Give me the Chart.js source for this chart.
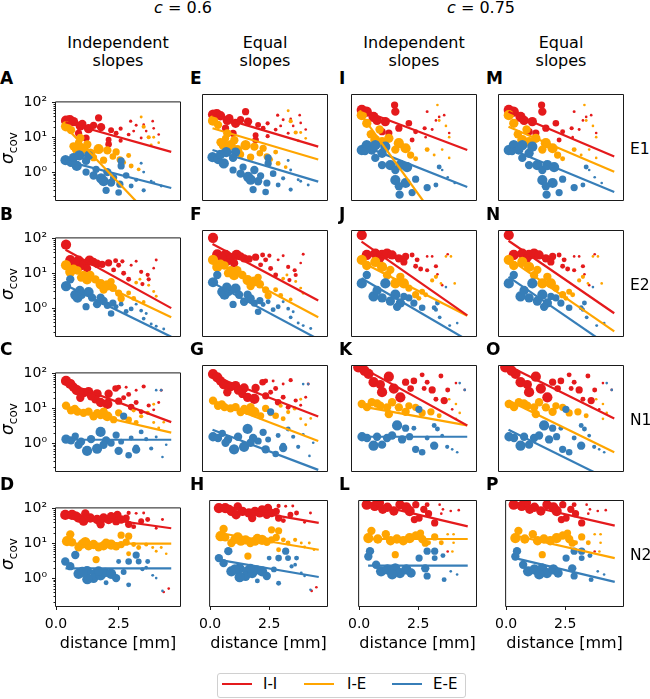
<!DOCTYPE html>
<html>
<head>
<meta charset="utf-8">
<script src="https://cdn.jsdelivr.net/npm/chart.js@4.4.0/dist/chart.umd.min.js"></script>
<style>
  body { margin: 0; background: #fff; font-family: "DejaVu Sans", sans-serif; }
  #fig { position: relative; width: 650px; height: 699px; overflow: hidden; background: #fff; }
  #fig canvas { position: absolute; }
  .t { position: absolute; white-space: nowrap; color: #000; line-height: 1; }
  .lg { position: absolute; height: 2px; }
</style>
</head>
<body>
<div id="fig"></div>
<script>
// colours for I-I, I-E, E-E
const COLORS = ['#e41a1c', '#ffa500', '#377eb8'];
const SERIES = ['I-I', 'I-E', 'E-E'];
const ROWS = ['E1', 'E2', 'N1', 'N2'];
const LETTERS = [['A', 'B', 'C', 'D'], ['E', 'F', 'G', 'H'], ['I', 'J', 'K', 'L'], ['M', 'N', 'O', 'P']];
const X_TICKS = [0, 2.5];
const Y_TICKS = [1, 10, 100];
const Y_TICK_LABELS = ['10\u2070', '10\u00b9', '10\u00b2'];
const LINE_X = [0.38, 4.6];

// scatter points, c = 0.6: [distance mm, sigma_cov, n pairs]
const E1_II = [[0.4,30,60],[0.55,31,60],[0.7,28,50],[0.97,21,50],[1.3,17.6,50],[1.7,36,30],[1.8,19.5,40],[1.2,9.5,30],[0.9,13,30],[2.1,6.3,25],[2.1,8.5,20],[2.4,13,14],[2.58,17.6,10],[2.58,8,10],[2.98,29,6],[3.1,15,5],[3.4,9.5,5],[3.86,29,4],[3.9,18,4],[3.5,23,4],[2.2,16,20],[3.2,22,5],[4.1,12,4],[1.05,24,40],[1.5,22,30],[2.9,12,8],[3.6,15,4]];
const E1_IE = [[0.4,20.6,60],[0.6,16,40],[0.97,9.5,40],[0.9,7,30],[0.83,4.6,60],[1.1,4.6,60],[1.37,3.4,60],[1.7,4.6,60],[2.05,4.2,40],[2.4,3.8,30],[2.55,2.3,25],[2.27,2.8,25],[2.9,3.0,14],[3.4,38,5],[3.5,20,10],[3.7,10,10],[3.9,10,5],[3.0,1.5,14],[3.8,6,5],[1.5,2.6,30],[3.3,1.2,8],[0.7,5.5,40],[1.25,6.2,40],[1.9,2.2,30],[2.7,1.9,14],[4.1,7,4]];
const E1_EE = [[0.38,2.2,60],[0.6,1.9,50],[0.83,1.5,60],[0.93,3.0,60],[1.3,3.0,50],[1.2,2.1,40],[1.2,1.0,30],[1.6,1.2,30],[1.8,0.66,60],[1.9,0.55,60],[2.05,1.0,40],[2.2,0.5,40],[2.6,2.1,30],[2.6,1.5,30],[2.55,0.45,30],[2.8,0.8,25],[3.4,1.8,5],[3.5,1.0,5],[3.8,0.55,5],[3.9,0.5,5],[2.0,0.3,30],[2.5,0.26,25],[3.5,0.3,10],[4.2,0.4,5],[3.0,0.4,14],[0.7,2.6,50],[1.5,0.8,40],[2.3,0.7,30],[3.2,0.6,10]];

const E2_II = [[0.4,66,60],[0.57,24,60],[0.9,23,60],[1.1,18.7,40],[1.34,23,60],[1.64,18.7,40],[1.24,13.8,40],[0.97,15,30],[1.84,18,30],[2.1,20,30],[2.38,23,14],[2.5,17,14],[2.65,22,10],[2.3,12.5,14],[2.7,10,14],[3.0,17,5],[3.2,22,5],[3.4,11,10],[3.66,9,10],[4.0,24,5],[3.7,6.7,10],[3.45,4.9,10],[2.9,6.7,14],[0.75,20,50],[1.5,21,40],[3.9,14,4]];
const E2_IE = [[0.4,17,60],[0.57,11,60],[0.86,12,40],[1.1,9,40],[1.24,6.7,60],[1.37,9,40],[1.57,6.7,40],[1.78,4.9,60],[2.05,4.5,60],[1.9,3.4,40],[2.27,3.8,40],[2.5,2.7,30],[2.6,1.9,30],[2.9,2.7,14],[3.2,5.4,8],[3.35,6.7,5],[3.7,4.5,5],[3.9,3,5],[4.0,2.2,5],[3.1,1.9,14],[0.7,13,50],[1.0,7.5,40],[2.2,5.8,30],[3.5,1.5,8]];
const E2_EE = [[0.4,4.3,60],[0.57,6.7,40],[0.77,2.4,60],[0.86,2.0,60],[1.03,2.4,40],[1.3,2.9,60],[1.44,2.0,40],[1.78,2.0,40],[1.64,1.3,40],[2.05,1.2,30],[2.27,1.4,30],[2.4,1.1,14],[2.6,1.3,14],[2.8,0.8,14],[3.0,0.95,14],[3.2,1.3,5],[3.4,0.85,8],[3.5,0.5,8],[3.8,0.35,5],[4.0,0.3,5],[4.3,0.25,5],[2.2,0.7,25],[1.2,1.1,30],[0.95,3.2,50],[1.9,1.6,40],[3.6,0.7,5]];

const N1_II = [[0.4,61,60],[0.57,50,60],[0.83,33,60],[1.1,28,50],[0.97,20,40],[1.3,30,50],[1.64,26,50],[1.57,18,40],[1.78,14.6,50],[2.05,13.3,60],[2.1,26,40],[2.38,37,25],[2.5,40,14],[2.8,40,5],[2.9,25,14],[2.5,16,30],[3.0,10.8,25],[3.2,14.6,14],[3.5,42,10],[3.4,7.9,14],[3.7,12,10],[3.9,9,5],[4.1,14.6,5],[4.2,33,5],[3.2,33,5],[0.7,40,50],[1.4,22,40],[2.7,20,14]];
const N1_IE = [[0.4,11.9,40],[0.6,8.7,40],[0.86,8,40],[1.1,7.4,40],[1.3,8,40],[1.5,5.9,40],[1.78,6.4,40],[2.05,5.9,60],[1.9,8,40],[2.3,4.7,30],[2.5,7.4,30],[2.9,4.7,25],[3.2,3.9,14],[3.4,5.9,10],[3.66,7.4,10],[3.9,3.9,5],[4.1,2.7,5],[3.9,13,5],[3.1,8.7,10],[0.75,9.5,40],[1.65,7.2,40],[2.7,5.5,20],[4.3,4,4]];
const N1_EE = [[0.4,1.3,50],[0.6,1.2,40],[0.77,1.6,30],[1.0,1.1,40],[1.24,0.6,60],[1.64,0.7,60],[1.78,2.1,60],[2.0,1.2,40],[2.4,1.7,30],[2.5,0.6,40],[2.7,6.0,30],[2.9,0.45,25],[3.2,0.65,40],[3.2,0.75,20],[3.4,2.1,14],[3.6,1.3,10],[3.8,0.7,10],[4.0,33,4],[4.25,0.4,4],[4.2,33,4],[1.4,1.3,40],[2.2,1.0,30],[3.0,1.4,14],[4.0,1.5,5],[4.4,0.9,4],[0.9,0.9,40],[1.9,0.9,40],[2.6,1.1,20]];

const N2_II = [[0.37,65,60],[0.64,65,60],[0.9,53,50],[1.17,72,40],[1.1,43,50],[1.37,53,50],[1.64,48,50],[1.78,35,40],[1.9,53,50],[2.1,48,50],[2.45,65,40],[2.4,43,40],[2.6,48,40],[2.8,53,30],[2.9,74,10],[2.9,35,30],[3.2,72,5],[3.1,30,14],[3.5,74,5],[4.0,27,5],[4.25,48,5],[3.4,43,20],[3.66,48,14],[4.3,0.4,4],[4.5,0.5,4],[0.8,60,50],[2.2,60,40]];
const N2_IE = [[0.44,11.5,60],[0.57,18,40],[0.64,10.7,40],[0.9,7.6,40],[1.17,10.7,60],[1.3,8.5,50],[1.5,9.2,50],[1.7,7.6,40],[1.9,8.5,50],[2.2,9.2,60],[2.6,17,30],[2.6,9.2,30],[2.8,10.7,30],[2.9,16,30],[3.1,9.2,14],[3.3,7.6,14],[3.6,9.2,10],[3.86,7.6,5],[4.2,7.6,5],[4.0,5.9,5],[2.9,5.0,14],[1.6,3.4,30],[4.4,5,4],[1.05,9.5,50],[2.0,10,50],[2.4,8.2,40]];
const N2_EE = [[0.37,3.0,40],[0.57,2.2,40],[0.77,4.6,40],[0.9,1.33,60],[1.24,1.6,60],[1.57,1.33,60],[1.5,0.98,50],[1.78,1.2,60],[1.97,1.45,50],[2.2,1.33,60],[2.4,1.0,40],[2.5,3.0,14],[2.9,3.0,25],[3.2,4.6,30],[3.3,3.0,20],[3.66,3.0,14],[2.9,0.64,14],[3.45,1.8,10],[3.86,1.2,5],[1.25,0.93,60],[2.0,0.74,14],[4.25,0.43,4],[4.0,1.0,4],[3.6,2.0,8],[1.05,1.5,60],[1.7,1.6,50],[2.7,1.5,20]];

// scatter points, c = 0.75
const E1_II_75 = [[0.39,40,60],[0.59,36,60],[0.86,26,60],[1.0,21,50],[1.33,19.5,50],[1.7,54,30],[1.73,36,40],[1.2,10.5,30],[1.47,9.7,30],[1.87,13,30],[2.27,17.6,25],[2.54,10.5,14],[2.4,6.3,14],[2.9,13,10],[3.0,36,5],[3.2,12,5],[3.48,26,4],[3.68,29,4],[3.88,9.7,4],[2.94,7.5,4],[3.35,21,4]];
const E1_IE_75 = [[0.39,29,60],[0.59,17.6,50],[0.93,6.3,60],[1.2,5.7,50],[1.47,7,50],[1.87,5.2,60],[2.14,3.8,60],[1.73,3.5,40],[2.34,2.5,30],[2.54,2.0,14],[3.0,3.5,14],[3.28,2.5,5],[3.41,54,4],[3.48,21,5],[3.75,15,4],[3.88,7.5,4],[3.6,3.5,4],[3.88,2.1,4],[0.75,9,40],[1.1,12,40]];
const E1_EE_75 = [[0.39,3.4,60],[0.59,4.6,60],[0.79,3.4,50],[0.93,4.6,60],[1.2,2.8,50],[1.33,4.2,60],[0.93,2.1,40],[1.2,1.35,40],[1.53,1.35,60],[1.73,1.0,40],[1.93,1.35,60],[2.2,1.2,60],[1.73,0.54,60],[2.14,0.45,60],[2.54,0.57,30],[1.87,0.37,40],[3.0,0.34,30],[3.48,1.2,14],[3.82,0.64,4],[4.1,0.45,4],[3.35,0.4,14],[3.6,1.0,4],[0.52,3.2,40],[1.9,0.22,40],[2.4,0.25,30]];

const E2_II_75 = [[0.39,78,60],[0.59,23,60],[0.93,25,60],[1.2,23,60],[1.4,25,60],[1.6,23,50],[1.13,18.7,40],[1.87,18.7,40],[2.14,21,30],[2.4,23,14],[2.6,17,14],[2.07,15,30],[2.54,11.5,14],[2.74,9.7,14],[3.0,21,4],[3.2,21,4],[3.0,9,10],[3.35,11.5,10],[3.6,3.6,4],[3.82,24,4],[3.41,7,4]];
const E2_IE_75 = [[0.39,17,60],[0.59,12,50],[0.93,15,60],[1.2,11,60],[1.53,9.2,40],[1.4,6.6,40],[1.73,4.0,60],[2.07,4.0,60],[1.93,6,40],[2.27,3.0,30],[2.54,2.0,30],[2.8,2.4,20],[3.2,4.8,10],[3.35,6,10],[3.55,4.0,4],[3.75,21,4],[3.95,21,4],[4.1,4,4],[2.67,1.6,14],[2.94,2.0,14]];
const E2_EE_75 = [[0.39,4.0,60],[0.59,6.7,40],[0.86,1.8,60],[1.2,1.65,50],[1.33,4.0,60],[1.53,1.35,50],[1.73,2.0,60],[1.93,1.2,50],[2.07,1.8,30],[2.27,1.65,30],[2.47,1.2,30],[1.8,0.95,40],[2.8,0.9,25],[3.28,0.9,14],[3.41,1.2,14],[3.75,3.2,4],[3.35,0.8,10],[3.5,0.5,8],[3.9,0.3,5],[4.2,0.35,4],[1.0,2.6,50]];

const N1_II_75 = [[0.25,92,60],[0.66,62,60],[0.86,37,60],[1.13,32,50],[1.47,52,60],[1.2,20,60],[1.67,25,60],[1.93,14.6,60],[2.14,37,30],[2.47,40,25],[2.34,25,25],[2.8,58,14],[3.0,37,14],[2.88,25,14],[3.2,23,30],[3.35,13,14],[3.68,12,30],[3.55,54,14],[3.82,23,14],[4.0,7,4],[4.5,23,4],[4.15,35,4],[0.5,75,60]];
const N1_IE_75 = [[0.39,9.7,40],[0.79,10.8,40],[1.13,8.7,40],[1.4,7.9,40],[1.6,10.8,40],[1.87,7.9,40],[1.47,5.2,40],[2.14,6,40],[2.27,8.7,30],[2.54,7.9,30],[2.8,5.6,30],[3.15,6,30],[3.48,4.7,14],[3.88,13,4],[4.15,9.7,4],[4.3,5.6,4],[4.15,3.9,4],[0.6,8,40],[1.0,10,40]];
const N1_EE_75 = [[0.4,1.3,50],[0.6,1.2,40],[0.86,0.75,60],[1.2,0.8,40],[1.0,1.3,40],[1.4,1.2,40],[1.8,2.6,60],[2.14,2.2,30],[2.67,7,30],[2.47,2.2,14],[3.28,2.6,14],[3.41,2.1,14],[4.3,35,4],[4.5,23,4],[2.54,0.6,30],[2.8,0.5,25],[3.28,0.75,40],[3.8,0.7,10],[4.0,0.6,4],[4.2,0.5,4],[2.0,1.1,40],[2.3,1.3,30],[3.0,1.2,14],[3.6,1.4,8],[1.6,1.4,40]];

const N2_II_75 = [[0.32,80,60],[0.66,74,60],[0.86,89,50],[1.2,68,50],[1.47,54,50],[1.73,80,50],[2.0,68,60],[2.14,54,60],[2.4,80,30],[2.34,32,30],[2.54,35,30],[2.74,60,30],[2.88,80,14],[2.94,46,30],[3.2,26,30],[3.41,80,4],[3.55,60,4],[3.88,54,4],[4.22,57,4],[3.48,46,4],[1.0,60,50],[3.75,4.5,4]];
const N2_IE_75 = [[0.39,10.3,60],[0.52,16,40],[0.79,9.7,50],[1.13,13,40],[1.33,8.7,50],[1.6,9.7,50],[1.87,8.7,50],[2.14,10.3,60],[2.4,12,40],[2.6,14,30],[2.67,9.7,40],[2.94,7.7,14],[3.2,11,30],[3.48,7.7,14],[3.75,13,4],[4.0,13,4],[4.0,7.7,4],[1.53,3.7,30],[2.8,7.5,30],[3.95,4.5,4]];
const N2_EE_75 = [[0.39,3.3,40],[0.46,4.6,40],[0.72,2.0,40],[0.93,1.33,60],[1.2,1.5,60],[1.53,1.6,60],[1.73,1.2,60],[2.0,1.5,60],[2.2,1.2,50],[2.54,3.0,30],[2.88,4.6,30],[3.2,4.6,30],[3.2,3.0,20],[3.55,3.5,14],[3.6,0.8,14],[2.88,1.0,30],[3.88,1.33,4],[4.15,1.1,4],[2.8,1.6,40],[1.4,1.1,60]];

const SCATTER_06 = [[E1_II, E1_IE, E1_EE], [E2_II, E2_IE, E2_EE], [N1_II, N1_IE, N1_EE], [N2_II, N2_IE, N2_EE]];
const SCATTER_75 = [[E1_II_75, E1_IE_75, E1_EE_75], [E2_II_75, E2_IE_75, E2_EE_75], [N1_II_75, N1_IE_75, N1_EE_75], [N2_II_75, N2_IE_75, N2_EE_75]];

// fitted lines: sigma at LINE_X ends, for I-I, I-E, E-E
const FIT_A = [[27, 3.8], [20, 0.0126], [2.1, 0.35]];
const FIT_B = [[47, 1.0], [15, 0.55], [4.6, 0.15]];
const FIT_C = [[55, 4.0], [10, 2.0], [1.25, 1.25]];
const FIT_D = [[72, 27], [9.8, 9.8], [1.9, 1.9]];
const FIT_E = [[29, 4.2], [13, 1.9], [3.4, 0.49]];
const FIT_F = [[45, 1.4], [16, 0.5], [4.2, 0.13]];
const FIT_G = [[55, 4.5], [12, 1.0], [2.0, 0.17]];
const FIT_H = [[75, 26], [14, 5.0], [2.7, 0.94]];
const FIT_I = [[40, 3.4], [29, 0.0035], [4.6, 0.35]];
const FIT_J = [[52, 0.56], [15, 0.55], [5.5, 0.124]];
const FIT_K = [[92, 2.6], [8.4, 2.6], [1.3, 1.3]];
const FIT_L = [[89, 21], [9.7, 9.7], [1.9, 1.9]];
const FIT_M = [[36, 2.3], [14.3, 0.9], [3.8, 0.26]];
const FIT_N = [[55, 0.64], [18.6, 0.21], [6.0, 0.069]];
const FIT_O = [[100, 4.0], [12, 0.5], [2.0, 0.08]];
const FIT_P = [[90, 22], [12, 3.0], [3.0, 0.7]];
const FITS = [[FIT_A, FIT_B, FIT_C, FIT_D], [FIT_E, FIT_F, FIT_G, FIT_H], [FIT_I, FIT_J, FIT_K, FIT_L], [FIT_M, FIT_N, FIT_O, FIT_P]];

// layout
const COL_LEFT = [56, 203, 352, 499];
const ROW_TOP = [95, 231, 366, 501];
const BOX_W = 124, BOX_H = 105;
const PAD_T = 6, PAD_R = 6, PAD_B = 50;
const Y_MIN = Math.pow(10, -0.8), Y_MAX = 100, X_MAX = 4.95;

Chart.defaults.font.family = '"DejaVu Sans", sans-serif';
Chart.defaults.color = '#000';

const fig = document.getElementById('fig');

function rad(n) { return 0.66 * Math.sqrt(n); }

function txt(html, x, base, size, opts) {
  opts = opts || {};
  const d = document.createElement('div');
  d.className = 't';
  d.innerHTML = html;
  d.style.fontSize = size + 'px';
  if (opts.bold) d.style.fontWeight = 'bold';
  d.style.top = (base - 0.843 * size) + 'px';
  d.style.left = x + 'px';
  if (opts.center) d.style.transform = 'translateX(-50%)';
  fig.appendChild(d);
  return d;
}

const framePlugin = {
  id: 'frame',
  afterDraw(chart, args, opts) {
    const { ctx, chartArea: a } = chart;
    ctx.save();
    ctx.strokeStyle = '#1a1a1a';
    ctx.lineWidth = 1;
    ctx.beginPath();
    ctx.rect(a.left - 0.5, a.top - 0.5, a.right - a.left + 1, a.bottom - a.top + 1);
    ctx.stroke();
    if (opts.minor) {
      const y = chart.scales.y;
      ctx.beginPath();
      for (let d = -1; d <= 1; d++) {
        for (let m = 2; m <= 9; m++) {
          const v = m * Math.pow(10, d);
          if (v < Y_MIN || v > Y_MAX) continue;
          const py = Math.round(y.getPixelForValue(v)) + 0.5;
          ctx.moveTo(a.left - 2.5, py);
          ctx.lineTo(a.left, py);
        }
      }
      ctx.stroke();
    }
    ctx.restore();
  }
};

function makePanel(c, r) {
  const firstCol = c === 0, lastRow = r === 3;
  const padL = firstCol ? 56 : 10;
  const cv = document.createElement('canvas');
  const w = padL + BOX_W + PAD_R, h = PAD_T + BOX_H + PAD_B;
  cv.width = w; cv.height = h;
  cv.style.width = w + 'px'; cv.style.height = h + 'px';
  cv.style.left = (COL_LEFT[c] - padL) + 'px';
  cv.style.top = (ROW_TOP[r] - PAD_T) + 'px';
  fig.appendChild(cv);

  const fit = FITS[c][r];
  const pts = (c < 2 ? SCATTER_06 : SCATTER_75)[r];
  const datasets = [];
  for (let s = 0; s < 3; s++) {
    datasets.push({
      type: 'line',
      data: [{ x: LINE_X[0], y: fit[s][0] }, { x: LINE_X[1], y: fit[s][1] }],
      borderColor: COLORS[s], borderWidth: 2.2, pointRadius: 0, fill: false,
      showLine: true, clip: 0, order: 0
    });
  }
  for (let s = 2; s >= 0; s--) {
    datasets.push({
      data: pts[s].map(p => ({ x: p[0], y: p[1], n: p[2] })),
      backgroundColor: COLORS[s], borderWidth: 0,
      pointRadius: ctx => rad(ctx.raw ? ctx.raw.n : 1),
      clip: 0, order: 3 - s
    });
  }

  new Chart(cv, {
    type: 'scatter',
    data: { datasets },
    plugins: [framePlugin],
    options: {
      responsive: false, animation: false, devicePixelRatio: 1, events: [],
      layout: { padding: { top: PAD_T, right: PAD_R, left: 0, bottom: 0 } },
      plugins: { legend: { display: false }, tooltip: { enabled: false }, frame: { minor: firstCol } },
      scales: {
        x: {
          type: 'linear', min: 0, max: X_MAX,
          afterFit: s => { s.height = PAD_B; },
          afterBuildTicks: s => { s.ticks = X_TICKS.map(v => ({ value: v })); },
          border: { display: false },
          grid: { display: lastRow, drawOnChartArea: false, tickLength: 4, tickColor: '#1a1a1a' },
          ticks: { display: lastRow, font: { size: 14 }, padding: 6, maxRotation: 0, callback: v => v.toFixed(1) },
          title: { display: lastRow, text: 'distance [mm]', font: { size: 16 }, padding: { top: 0, bottom: 3 } }
        },
        y: {
          type: 'logarithmic', min: Y_MIN, max: Y_MAX,
          afterFit: s => { s.width = padL; },
          afterBuildTicks: s => { s.ticks = Y_TICKS.map(v => ({ value: v })); },
          border: { display: false },
          grid: { display: firstCol, drawOnChartArea: false, tickLength: 4, tickColor: '#1a1a1a' },
          ticks: { display: firstCol, font: { size: 14 }, padding: 5, callback: v => Y_TICK_LABELS[Y_TICKS.indexOf(v)] }
        }
      }
    }
  });

  // panel letter
  const lx = firstCol ? 0 : COL_LEFT[c] - 13;
  txt(LETTERS[c][r], lx, ROW_TOP[r] - 11, 17, { bold: true });
}

for (let c = 0; c < 4; c++) for (let r = 0; r < 4; r++) makePanel(c, r);

// column headers
const HEAD = ['Independent', 'Equal'];
for (let c = 0; c < 4; c++) {
  const cx = COL_LEFT[c] + BOX_W / 2;
  txt(HEAD[c % 2], cx, 48, 16, { center: true });
  txt('slopes', cx, 66, 16, { center: true });
}
txt('<i>c</i> = 0.6', 183, 13, 16, { center: true });
txt('<i>c</i> = 0.75', 481, 13, 16, { center: true });

// row labels and y titles
for (let r = 0; r < 4; r++) {
  txt(ROWS[r], 630, ROW_TOP[r] + 60, 15.5);
  const d = document.createElement('div');
  d.className = 't';
  d.style.fontSize = '17px';
  d.style.left = '9px';
  d.style.top = (ROW_TOP[r] + BOX_H / 2) + 'px';
  d.style.transform = 'translate(-50%,-50%) rotate(-90deg)';
  d.innerHTML = '<i>\u03c3</i><span style="font-size:12px;vertical-align:-0.3em">cov</span>';
  fig.appendChild(d);
}

// legend
const LEG_LEFT = 217, LEG_TOP = 673;
const box = document.createElement('div');
box.style.cssText = 'position:absolute;left:' + LEG_LEFT + 'px;top:' + LEG_TOP + 'px;width:249px;height:25px;border:1px solid #d0d0d0;border-radius:3px;box-sizing:border-box;background:#fff';
fig.appendChild(box);
const LEG_LINE_X = [222, 304, 392], LEG_TEXT_X = [263, 347, 433];
for (let s = 0; s < 3; s++) {
  const l = document.createElement('div');
  l.className = 'lg';
  l.style.cssText += 'left:' + LEG_LINE_X[s] + 'px;top:' + (LEG_TOP + 10) + 'px;width:30px;background:' + COLORS[s];
  fig.appendChild(l);
  txt(SERIES[s], LEG_TEXT_X[s], LEG_TOP + 17, 15);
}
</script>
</body>
</html>
